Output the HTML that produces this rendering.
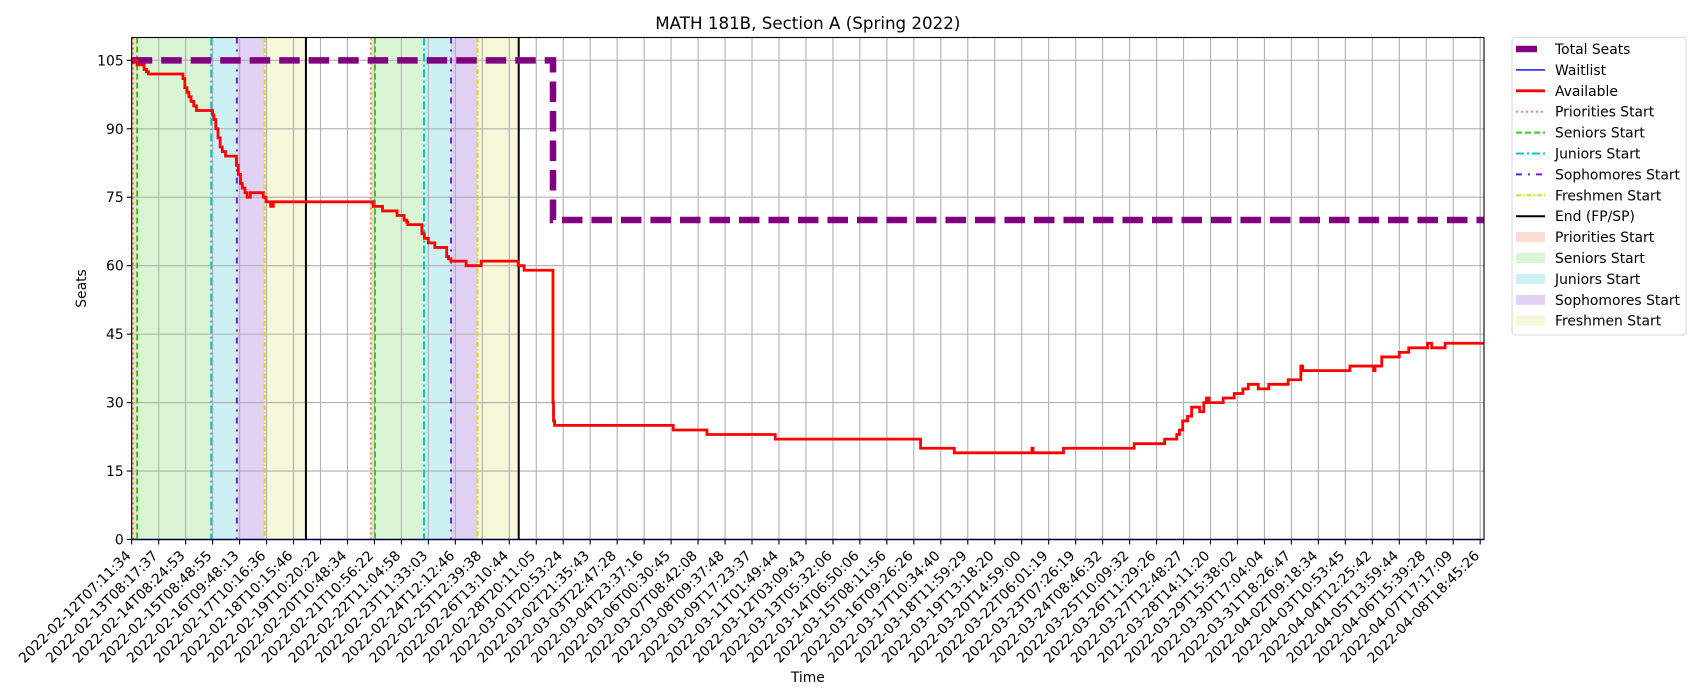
<!DOCTYPE html>
<html><head><meta charset="utf-8"><style>
html,body{margin:0;padding:0;background:#fff;}
svg{display:block;font-family:"DejaVu Sans","Liberation Sans",sans-serif;}
</style></head><body>
<svg id="chart" width="1700" height="700" viewBox="0 0 1700 700" xmlns="http://www.w3.org/2000/svg"></svg>
<script>
// ---- data ----
const tickLabels = ["2022-02-12T07:11:34","2022-02-13T08:17:37","2022-02-14T08:24:53","2022-02-15T08:48:55","2022-02-16T09:48:13","2022-02-17T10:16:36","2022-02-18T10:15:46","2022-02-19T10:20:22","2022-02-20T10:48:34","2022-02-21T10:56:22","2022-02-22T11:04:58","2022-02-23T11:33:03","2022-02-24T12:12:46","2022-02-25T12:39:38","2022-02-26T13:10:44","2022-02-28T20:11:05","2022-03-01T20:53:24","2022-03-02T21:35:43","2022-03-03T22:47:28","2022-03-04T23:37:16","2022-03-06T00:30:45","2022-03-07T08:42:08","2022-03-08T09:37:48","2022-03-09T17:23:37","2022-03-11T01:49:44","2022-03-12T03:09:43","2022-03-13T05:32:06","2022-03-14T06:50:06","2022-03-15T08:11:56","2022-03-16T09:26:26","2022-03-17T10:34:40","2022-03-18T11:59:29","2022-03-19T13:18:20","2022-03-20T14:59:00","2022-03-22T06:01:19","2022-03-23T07:26:19","2022-03-24T08:46:32","2022-03-25T10:09:32","2022-03-26T11:29:26","2022-03-27T12:48:27","2022-03-28T14:11:20","2022-03-29T15:38:02","2022-03-30T17:04:04","2022-03-31T18:26:47","2022-04-02T09:18:34","2022-04-03T10:53:45","2022-04-04T12:25:42","2022-04-05T13:59:44","2022-04-06T15:39:28","2022-04-07T17:17:09","2022-04-08T18:45:26"];
const yTicks = [0,15,30,45,60,75,90,105];
const availX = [0,0.2,0.46,0.55,0.62,1.9,1.97,2.05,2.12,2.2,2.3,2.4,2.95,3.0,3.05,3.12,3.2,3.28,3.36,3.48,3.88,3.95,4.03,4.1,4.2,4.28,4.4,4.88,4.98,5.15,5.25,5.4,8.95,9.3,9.84,10.1,10.2,10.24,10.76,10.85,11.0,11.24,11.68,11.75,11.84,12.4,12.96,14.33,14.55,15.6,15.62,15.64,15.68,20.08,21.33,23.86,29.25,30.5,33.38,33.42,34.55,37.17,38.3,38.75,38.85,38.97,39.15,39.3,39.6,39.75,39.85,39.95,40.47,40.88,41.2,41.4,41.77,42.16,42.88,43.35,43.42,45.17,46.05,46.1,46.35,47.0,47.35,48.05,48.2,48.7,50.15];
const availY = [105,104,103,102.5,102,101,99,98,97,96,95,94,94,93,92,90,88,86,85,84,82,80,78,77,76,75,76,75,74,73,74,74,73,72,71,70,69.5,69,67,66,65,64,62,61.5,61,60,61,60,59,59,30,26,25,24,23,22,20,19,20,19,20,21,22,23,24,26,27,29,28,30,31,30,31,32,33,34,33,34,35,38,37,38,37,38,40,41,42,43,42,43,43];
const totalX = [0,15.62,15.62,50.15];
const totalY = [105,105,70,70];
const waitX = [0,50.15];
const waitY = [0,0];
const phaseNames = ["Priorities Start","Seniors Start","Juniors Start","Sophomores Start","Freshmen Start"];
const phaseStarts1 = [0.05,0.2,2.95,3.9,4.93];
const phaseStarts2 = [8.87,9.02,10.84,11.84,12.82];
const endTimes = [6.46,14.35];
</script>
<script>
const NS="http://www.w3.org/2000/svg";
const svg=document.getElementById('chart');
const L=131.7,R=1484,T=37.5,B=539.5;
const x0=131.7, xStep=26.97;
const X=v=>x0+v*xStep;
const Y=v=>B-v*(B-T)/110;
function mk(tag,attrs,parent){const e=document.createElementNS(NS,tag);for(const k in attrs)e.setAttribute(k,attrs[k]);(parent||svg).appendChild(e);return e;}
const lineColors=["#ff7f50","#33cc11","#00c8d2","#6a1fd6","#d8d82a"];
const lineDash=["2 3","6 3","8 3 2 3","6 6 2 6","5 2 1.5 2"];
const fillColors=["#f8ddd4","#d9f5d3","#cdf0f4","#e0d1f5","#f7f7d9"];
[[phaseStarts1,endTimes[0]],[phaseStarts2,endTimes[1]]].forEach(([st,en],g)=>{
  st.forEach((s,i)=>{const e=i<st.length-1?st[i+1]:en;
    const r=mk('rect',{x:X(s),y:T,width:X(e)-X(s),height:B-T,fill:fillColors[i]});
    
    
  });
});
const grid=mk('g',{stroke:'#b0b0b0','stroke-width':1.1});


tickLabels.forEach((t,i)=>mk('line',{x1:X(i),x2:X(i),y1:T,y2:B},grid));
yTicks.forEach(v=>mk('line',{x1:L,x2:R,y1:Y(v),y2:Y(v)},grid));
[phaseStarts1,phaseStarts2].forEach((st,g)=>st.forEach((s,i)=>{
  const l=mk('line',{x1:X(s),x2:X(s),y1:T,y2:B,stroke:lineColors[i],'stroke-width':2,'stroke-dasharray':lineDash[i]});
  
  
}));
endTimes.forEach((s,i)=>{const l=mk('line',{x1:X(s),x2:X(s),y1:T,y2:B,stroke:'#000','stroke-width':2});
  
  });
function stepPath(xs,ys){let d='M'+X(xs[0])+' '+Y(ys[0]);for(let i=1;i<xs.length;i++){d+=' H'+X(xs[i])+' V'+Y(ys[i]);}return d;}
function polyPath(xs,ys){return xs.map((v,i)=>(i?'L':'M')+X(v)+' '+Y(ys[i])).join(' ');}
const tot=mk('path',{d:polyPath(totalX,totalY),fill:'none',stroke:'#800080','stroke-width':6.5,'stroke-dasharray':'20.5 9'});


const wl=mk('path',{d:polyPath(waitX,waitY),fill:'none',stroke:'#0000ff','stroke-width':1.4});


const av=mk('path',{d:stepPath(availX,availY),fill:'none',stroke:'#ff0000','stroke-width':2.8});


const fr=mk('rect',{x:L,y:T,width:R-L,height:B-T,fill:'none',stroke:'#000','stroke-width':1.1});


yTicks.forEach(v=>{mk('line',{x1:L-5,x2:L,y1:Y(v),y2:Y(v),stroke:'#000','stroke-width':1.1});
  const t=mk('text',{x:L-8,y:Y(v)+5,'text-anchor':'end','font-size':13.9,fill:'#000'});t.textContent=v;
  
  });
tickLabels.forEach((lab,i)=>{mk('line',{x1:X(i),x2:X(i),y1:B,y2:B+5,stroke:'#000','stroke-width':1.1});
  const t=mk('text',{transform:`translate(${X(i)},${B+17}) rotate(-45)`,'text-anchor':'end','font-size':13.9,fill:'#000'});t.textContent=lab;
  
  });
let t=mk('text',{x:(L+R)/2,y:29,'text-anchor':'middle','font-size':16.7});t.textContent='MATH 181B, Section A (Spring 2022)';


t=mk('text',{transform:`translate(86,${(T+B)/2}) rotate(-90)`,'text-anchor':'middle','font-size':13.9});t.textContent='Seats';


t=mk('text',{x:(L+R)/2,y:682,'text-anchor':'middle','font-size':13.9});t.textContent='Time';


const lg=mk('g',{});


mk('rect',{x:1512,y:37.3,width:174,height:297.7,rx:3,fill:'#fff',stroke:'#d5d5d5','stroke-width':1},lg);
const entries=[
 {n:'Total Seats',k:'line',c:'#800080',w:6.5,d:''},
 {n:'Waitlist',k:'line',c:'#0000ff',w:1.4,d:''},
 {n:'Available',k:'line',c:'#ff0000',w:2.8,d:''},
];
phaseNames.forEach((n,i)=>entries.push({n:n,k:'line',c:lineColors[i],w:2,d:lineDash[i]}));
entries.push({n:'End (FP/SP)',k:'line',c:'#000',w:2,d:''});
phaseNames.forEach((n,i)=>entries.push({n:n,k:'patch',c:fillColors[i]}));
entries.forEach((e,i)=>{const cy=49+i*20.9;
  if(e.k==='line'){mk('line',{x1:1516,x2:e.n==='Total Seats'?1537:1545,y1:cy,y2:cy,stroke:e.c,'stroke-width':e.w,'stroke-dasharray':e.d},lg);}
  else mk('rect',{x:1516,y:cy-5,width:29,height:10,fill:e.c},lg);
  const tx=mk('text',{x:1555,y:cy+5,'font-size':13.9},lg);tx.textContent=e.n;
  
  
});
</script>
</body></html>
